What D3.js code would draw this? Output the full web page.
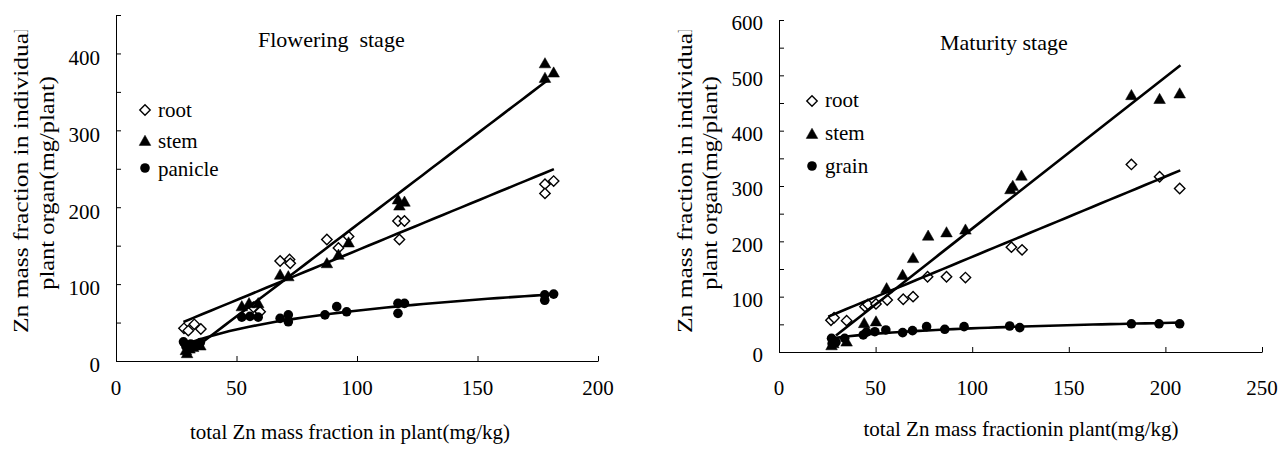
<!DOCTYPE html>
<html>
<head>
<meta charset="utf-8">
<script src="https://cdn.jsdelivr.net/npm/d3@7"></script>
<style>
  body { margin: 0; background: #fff; }
</style>
</head>
<body>
<div id="chart"></div>
<script>
// Zn distribution in plant organs vs total Zn in plant

// Flowering stage: [total Zn, organ Zn]
const flowerRoot = [[28.2,42.5],[30,39.5],[32.5,47.7],[35.2,41.6],[57,70],[59.8,64],[68.1,130],[72,132],[72.3,127],
  [87.5,158],[92.3,147],[96.5,162],[117,182],[119.7,182],[117.6,158],[178,230],[181.6,234],[178,218]];
const flowerStem = [[29.5,10],[29,14],[30.5,16],[32,18],[35,20],[52.2,71],[55.2,75],[59,75],[68.1,112],[71.5,110],
  [87.5,127],[92.3,138],[96.5,154],[117.6,202],[119.7,207],[117,210],[178,387],[178,368],[181.6,375]];
const flowerPanicle = [[28,25],[29,19],[31,22],[33,21],[35,24],[52.2,57],[55.6,58],[59,57],[68.1,55.5],[71.5,60],
  [71.5,51],[86.7,60],[91.6,70.7],[95.7,64],[117,62],[117,75],[119.7,75],[177.9,79],[177.9,86],[181.6,87]];

// Maturity stage
const matureRoot = [[26.9,57.3],[28.5,62],[35,56.7],[44.5,82],[46,86],[50.2,86.9],[56,94],[64.3,95.3],[69.4,100],
  [76.9,136],[86.7,136],[96.5,134.5],[120.3,189.5],[125.8,184.6],[182.4,339],[197,316.6],[207.4,295.5]];
const matureStem = [[27.2,12],[28.1,15.7],[35,18.6],[44.1,52],[50.2,55],[55.7,115],[64,139],[69.4,169.5],
  [77.2,210],[86.7,216],[96.5,221],[119.8,294],[121,300],[125.5,318.5],[182.4,464],[197,457],[207.4,467]];
const matureGrain = [[27.2,24.8],[27.5,15],[29.5,18],[34,24.8],[43.6,30.8],[45.3,36],[49.6,36.7],[55.3,39.8],
  [64,35],[69.1,38.6],[76.4,45.8],[85.8,41],[95.8,45.8],[119.4,47],[124.6,44],[182.4,51],[196.7,51],[207.4,51]];

// trend lines: [slope or log coefficient, intercept, x start, x end]
const flowerRootFit = [1.293, 14.6, 28, 181.7];
const flowerStemFit = [2.38, -61, 30, 179.5];
const flowerPanicleFit = [35.4, -97.5, 28, 181];     // logarithmic
const matureRootFit = [1.45, 27, 25.5, 207.7];
const matureStemFit = [2.74, -51, 29.5, 207.8];
const matureGrainFit = [14.1, -22.2, 27, 207.7];     // logarithmic

const flowerXTicks = [0, 50, 100, 150, 200];
const flowerYTicks = [0, 100, 200, 300, 400];
const matureXTicks = [0, 50, 100, 150, 200, 250];
const matureYTicks = [0, 100, 200, 300, 400, 500, 600];

const FONT = "'Liberation Serif', 'Times New Roman', serif";
const width = 1279, height = 450;
const svg = d3.select('#chart').append('svg')
    .attr('width', width)
    .attr('height', height)
    .style('font-family', FONT);

// the first y-title line is cut off at the top in the original figure
svg.append('defs').append('clipPath').attr('id', 'ylabclip')
    .append('rect').attr('x', 0).attr('y', 30.5).attr('width', width).attr('height', height);

const symbols = {
    diamond: 'M0,-5.2L5.2,0L0,5.2L-5.2,0Z',
    triangle: 'M0,-5.8L5.8,4.4L-5.8,4.4Z'
};

function txt(g, size) {
    return g.append('text')
        .style('font-family', FONT)
        .style('font-size', size + 'px')
        .style('white-space', 'pre')
        .attr('fill', '#000');
}

function drawMarker(g, shape, x, y) {
    if (shape === 'circle') {
        g.append('circle').attr('cx', x).attr('cy', y).attr('r', 4.8).attr('fill', '#000');
    } else {
        g.append('path').attr('d', symbols[shape])
            .attr('transform', `translate(${x},${y})`)
            .attr('fill', shape === 'diamond' ? '#fff' : '#000')
            .attr('stroke', '#000')
            .attr('stroke-width', shape === 'diamond' ? 1.4 : 0.5);
    }
}

const panels = [
    {
        title: 'Flowering  stage', titleX: 258, titleY: 47,
        xDomain: [0, 200], xRange: [116, 598], yDomain: [0, 450], yRange: [361, 15],
        xTicks: flowerXTicks, yTicks: flowerYTicks, yMax: 450, labelShift: 4, xLabelY: 395,
        xTitle: 'total Zn mass fraction in plant(mg/kg)', xTitleX: 350, xTitleY: 439,
        yLab1X: 27.5, yLab2X: 54,
        legendX: 145, legendY: [110, 141, 168], legendTextY: [117, 148, 176],
        series: [
            { name: 'root', shape: 'diamond', data: flowerRoot, fit: flowerRootFit, type: 'lin' },
            { name: 'stem', shape: 'triangle', data: flowerStem, fit: flowerStemFit, type: 'lin' },
            { name: 'panicle', shape: 'circle', data: flowerPanicle, fit: flowerPanicleFit, type: 'log' }
        ]
    },
    {
        title: 'Maturity stage', titleX: 940, titleY: 50,
        xDomain: [0, 250], xRange: [779, 1262], yDomain: [0, 600], yRange: [352, 20],
        xTicks: matureXTicks, yTicks: matureYTicks, yMax: 600, labelShift: 3, xLabelY: 395,
        xTitle: 'total Zn mass fractionin plant(mg/kg)', xTitleX: 1021, xTitleY: 436,
        yLab1X: 692, yLab2X: 717,
        legendX: 812, legendY: [101, 134, 166], legendTextY: [107, 140, 173],
        series: [
            { name: 'root', shape: 'diamond', data: matureRoot, fit: matureRootFit, type: 'lin' },
            { name: 'stem', shape: 'triangle', data: matureStem, fit: matureStemFit, type: 'lin' },
            { name: 'grain', shape: 'circle', data: matureGrain, fit: matureGrainFit, type: 'log' }
        ]
    }
];

panels.forEach(p => {
    const x = d3.scaleLinear().domain(p.xDomain).range(p.xRange);
    const y = d3.scaleLinear().domain(p.yDomain).range(p.yRange);
    const g = svg.append('g');

    // axes, ticks point inward
    g.append('g')
        .attr('transform', `translate(0,${p.yRange[0]})`)
        .call(d3.axisBottom(x).tickValues(p.xTicks.slice(1)).tickSize(-5).tickSizeOuter(0).tickFormat(''))
        .call(a => a.selectAll('line,path').attr('stroke', '#000').attr('stroke-width', 1));
    g.append('g')
        .attr('transform', `translate(${p.xRange[0]},0)`)
        .call(d3.axisLeft(y).tickValues(d3.range(0, p.yMax + 1, 50)).tickSize(-5).tickSizeOuter(0).tickFormat(''))
        .call(a => a.selectAll('line,path').attr('stroke', '#000').attr('stroke-width', 1));

    // tick labels
    p.xTicks.forEach(d => {
        txt(g, 21).attr('x', x(d)).attr('y', p.xLabelY)
            .attr('text-anchor', 'middle').text(d);
    });
    p.yTicks.forEach(d => {
        txt(g, 21).attr('x', p.xRange[0] - 16).attr('y', y(d) + p.labelShift)
            .attr('dy', '0.35em').attr('text-anchor', 'end').text(d);
    });

    // axis titles
    txt(g, 21).attr('x', p.xTitleX).attr('y', p.xTitleY)
        .attr('text-anchor', 'middle').text(p.xTitle);
    txt(g.append('g').attr('clip-path', 'url(#ylabclip)'), 25.5)
        .attr('transform', `translate(${p.yLab1X},333) rotate(-90) scale(1,0.84)`)
        .text('Zn mass fraction in individual');
    txt(g, 24.5)
        .attr('transform', `translate(${p.yLab2X},183) rotate(-90) scale(1,0.86)`)
        .attr('text-anchor', 'middle')
        .text('plant organ(mg/plant)');

    // title
    txt(g, 22).attr('x', p.titleX).attr('y', p.titleY).text(p.title);

    // markers
    p.series.forEach(s => {
        const mg = g.append('g');
        s.data.forEach(d => drawMarker(mg, s.shape, x(d[0]), y(d[1])));
    });

    // trend lines
    const line = d3.line().x(d => x(d[0])).y(d => y(d[1]));
    p.series.forEach(s => {
        const [a, b, x0, x1] = s.fit;
        const f = s.type === 'log' ? v => a * Math.log(v) + b : v => a * v + b;
        const pts = d3.range(0, 41).map(i => {
            const v = x0 + (x1 - x0) * i / 40;
            return [v, f(v)];
        });
        g.append('path').datum(pts)
            .attr('d', line)
            .attr('fill', 'none')
            .attr('stroke', '#000')
            .attr('stroke-width', 2.6);
    });

    // legend
    p.series.forEach((s, i) => {
        drawMarker(g, s.shape, p.legendX, p.legendY[i]);
        txt(g, 21).attr('x', p.legendX + 13).attr('y', p.legendTextY[i]).text(s.name);
    });
});
</script>
</body>
</html>
